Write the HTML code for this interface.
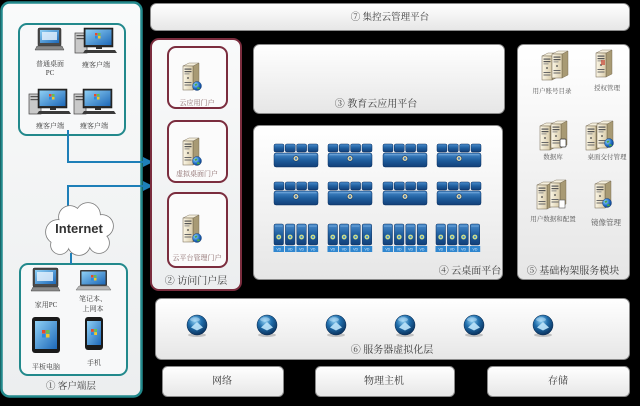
<!DOCTYPE html>
<html><head><meta charset="utf-8"><style>
html,body{margin:0;padding:0;background:#000;}
svg{display:block;}
text{font-family:"Liberation Serif","Noto Serif CJK SC","Noto Sans CJK SC",serif;fill:#3a3a3a;}
</style></head><body>
<svg width="640" height="406" viewBox="0 0 640 406" xmlns="http://www.w3.org/2000/svg">
<defs>
<linearGradient id="boxg" x1="0" y1="0" x2="0" y2="1"><stop offset="0" stop-color="#ffffff"/><stop offset="1" stop-color="#e6e6e6"/></linearGradient>
<linearGradient id="panelg" x1="0" y1="0" x2="0" y2="1"><stop offset="0" stop-color="#f9fafa"/><stop offset="1" stop-color="#eceeef"/></linearGradient>
<linearGradient id="bladeg" x1="0" y1="0" x2="0" y2="1"><stop offset="0" stop-color="#4a8ccc"/><stop offset="0.5" stop-color="#1f5e9e"/><stop offset="1" stop-color="#123f78"/></linearGradient>
<linearGradient id="beige" x1="0" y1="0" x2="1" y2="0"><stop offset="0" stop-color="#fbf6e6"/><stop offset="1" stop-color="#d9ccaa"/></linearGradient>
<linearGradient id="scr" x1="0" y1="0" x2="1" y2="1"><stop offset="0" stop-color="#8fd0f5"/><stop offset="1" stop-color="#1d68b8"/></linearGradient>
<radialGradient id="sphg" cx="0.4" cy="0.3" r="0.75"><stop offset="0" stop-color="#8fd0f2"/><stop offset="0.45" stop-color="#1f6dab"/><stop offset="1" stop-color="#082c55"/></radialGradient>
<radialGradient id="globe" cx="0.35" cy="0.35" r="0.7"><stop offset="0" stop-color="#9fd8ff"/><stop offset="0.6" stop-color="#1f6ec8"/><stop offset="1" stop-color="#0c3c80"/></radialGradient>

<g id="srv">
<polygon points="10,4 16,1 16,25 10,28" fill="#a89a74" stroke="#6d6048" stroke-width="0.4"/>
<polygon points="0,4 6,1 16,1 10,4" fill="#f6f0de" stroke="#6d6048" stroke-width="0.4"/>
<rect x="0" y="4" width="10" height="24" fill="url(#beige)" stroke="#6d6048" stroke-width="0.5"/>
<rect x="1.5" y="6.5" width="7" height="1.2" fill="#555"/>
<rect x="1.5" y="9" width="7" height="1.2" fill="#555"/>
<rect x="1.5" y="11.5" width="5" height="0.8" fill="#777"/>
<circle cx="5" cy="16" r="0.9" fill="#444"/>
<rect x="1.5" y="20" width="7" height="1" fill="#666"/>
<rect x="1.5" y="22.5" width="7" height="1" fill="#666"/>
</g>
<g id="glb">
<circle cx="0" cy="0" r="4.5" fill="url(#globe)" stroke="#0b3570" stroke-width="0.4"/>
<path d="M-2.5,-1.5 q1.5,-1.5 3,-0.5 q-0.5,1.5 -2,2 z M0.5,1 q2,0 2.5,1.5 q-1.5,1.5 -3,0.5 z" fill="#4aa84a"/>
</g>
<g id="blade">
<rect x="0" y="0" width="10" height="8" rx="1.5" fill="url(#bladeg)" stroke="#0c3060" stroke-width="0.5"/>
<rect x="11.3" y="0" width="10" height="8" rx="1.5" fill="url(#bladeg)" stroke="#0c3060" stroke-width="0.5"/>
<rect x="22.6" y="0" width="10" height="8" rx="1.5" fill="url(#bladeg)" stroke="#0c3060" stroke-width="0.5"/>
<rect x="34" y="0" width="10" height="8" rx="1.5" fill="url(#bladeg)" stroke="#0c3060" stroke-width="0.5"/>
<rect x="0" y="9" width="44" height="14" rx="2" fill="url(#bladeg)" stroke="#0c3060" stroke-width="0.5"/>
<rect x="1.5" y="10" width="41" height="1.3" fill="#7fb0e0" opacity="0.6"/>
<circle cx="22" cy="14.5" r="2.8" fill="#e0d8a8" stroke="#173a6a" stroke-width="0.6"/>
<circle cx="22" cy="14.5" r="1.2" fill="#3a7ac0"/>
</g>
<g id="vm">
<g id="vm1">
<rect x="0" y="0" width="9.5" height="21" rx="1.5" fill="url(#bladeg)" stroke="#0c3060" stroke-width="0.5"/>
<rect x="1" y="1.5" width="7.5" height="1.2" fill="#7fb0e0" opacity="0.6"/>
<circle cx="4.75" cy="13" r="2.6" fill="#cfe08a" stroke="#2a5a8a" stroke-width="0.4"/>
<circle cx="4.75" cy="13" r="1.1" fill="#3f8fd0"/>
<rect x="-0.5" y="22" width="10.5" height="6" fill="#2f86cf"/>
<text x="4.75" y="26.5" text-anchor="middle" style="font-size:3.5px;fill:#dff0ff;font-family:'Liberation Sans',sans-serif">VD</text>
</g>
<use href="#vm1" x="11.4"/>
<use href="#vm1" x="22.8"/>
<use href="#vm1" x="34.2"/>
</g>
<g id="sph">
<ellipse cx="0" cy="10" rx="9" ry="2" fill="#8a8a8a" opacity="0.45"/>
<circle cx="0" cy="0" r="10" fill="url(#sphg)" stroke="#0a2a50" stroke-width="0.5"/>
<polygon points="0,-3 6,2.5 0,5.5 -6,2.5" fill="#bfe6fb" opacity="0.9"/>
<ellipse cx="-2" cy="-5.5" rx="5" ry="2.2" fill="#cfeaff" opacity="0.45"/>
</g>
<g id="thin">
<!-- tower -->
<rect x="0" y="5" width="12" height="20" fill="#c9c9c9" stroke="#444" stroke-width="0.7"/>
<rect x="1.5" y="7" width="9" height="1.2" fill="#555"/>
<rect x="1.5" y="10" width="9" height="1.2" fill="#555"/>
<!-- monitor -->
<rect x="9" y="0" width="29" height="19" fill="#2a2a2a" stroke="#111" stroke-width="0.5"/>
<rect x="10.5" y="1.5" width="26" height="15.5" fill="url(#scr)"/>
<rect x="20" y="5" width="2.5" height="2.5" fill="#e84a2a"/><rect x="23" y="5" width="2.5" height="2.5" fill="#6ac04a"/>
<rect x="20" y="8" width="2.5" height="2.5" fill="#2a8ae0"/><rect x="23" y="8" width="2.5" height="2.5" fill="#f2c82a"/>
<rect x="21" y="19" width="6" height="2" fill="#333"/>
<!-- keyboard -->
<polygon points="10,22 40,22 42,25 8,25" fill="#3a3a3a"/>
</g>
</defs>

<!-- ===== Left client panel ===== -->
<rect x="1.5" y="2.5" width="140" height="394" rx="8" fill="url(#panelg)" stroke="#22898c" stroke-width="2.5"/>
<rect x="19" y="24" width="106" height="111" rx="8" fill="#f7f8f9" stroke="#22898c" stroke-width="2"/>
<rect x="20" y="264" width="107" height="111" rx="8" fill="#f7f8f9" stroke="#22898c" stroke-width="2"/>

<!-- top box icons -->
<g>
<rect x="38" y="28" width="23" height="18" rx="1.5" fill="#4a4a4a" stroke="#222" stroke-width="0.5"/>
<rect x="40" y="30" width="19" height="13" fill="url(#scr)"/>
<rect x="42" y="32" width="15" height="8" fill="#e8f4ff" opacity="0.8"/>
<polygon points="37,46 62,46 64,50 35,50" fill="#8a8a8a" stroke="#444" stroke-width="0.5"/>
</g>
<use href="#thin" x="75" y="28"/>
<use href="#thin" x="29" y="89"/>
<use href="#thin" x="74" y="89"/>
<text x="50" y="66" text-anchor="middle" style="font-size:7px">普通桌面</text>
<text x="50" y="75" text-anchor="middle" style="font-size:7px">PC</text>
<text x="96" y="67" text-anchor="middle" style="font-size:7px">瘦客户端</text>
<text x="50" y="128" text-anchor="middle" style="font-size:7px">瘦客户端</text>
<text x="94" y="128" text-anchor="middle" style="font-size:7px">瘦客户端</text>

<!-- bottom box icons -->
<g>
<rect x="33" y="268" width="25" height="19" rx="1.5" fill="#4a4a4a" stroke="#222" stroke-width="0.5"/>
<rect x="35" y="270" width="21" height="14" fill="url(#scr)"/>
<rect x="37" y="272" width="16" height="9" fill="#e8f4ff" opacity="0.8"/>
<polygon points="33,287 58,287 60,291 31,291" fill="#8a8a8a" stroke="#444" stroke-width="0.5"/>
</g>
<g>
<rect x="80" y="270" width="27" height="16" rx="1" fill="#3a3a3a"/>
<rect x="81.5" y="271.5" width="24" height="13" fill="url(#scr)"/>
<rect x="91" y="275" width="2.5" height="2.5" fill="#e84a2a"/><rect x="94" y="275" width="2.5" height="2.5" fill="#6ac04a"/>
<rect x="91" y="278" width="2.5" height="2.5" fill="#2a8ae0"/><rect x="94" y="278" width="2.5" height="2.5" fill="#f2c82a"/>
<polygon points="79,286 108,286 111,290 76,290" fill="#b8b8b8" stroke="#666" stroke-width="0.5"/>
</g>
<g>
<rect x="32" y="317" width="28" height="36" rx="3" fill="#1a1a1a"/>
<rect x="35" y="321" width="22" height="28" fill="url(#scr)"/>
<rect x="42" y="330" width="3.5" height="3.5" fill="#e84a2a"/><rect x="46" y="330" width="3.5" height="3.5" fill="#6ac04a"/>
<rect x="42" y="334" width="3.5" height="3.5" fill="#2a8ae0"/><rect x="46" y="334" width="3.5" height="3.5" fill="#f2c82a"/>
</g>
<g>
<rect x="85" y="317" width="18" height="33" rx="3" fill="#1a1a1a"/>
<rect x="87" y="321" width="14" height="24" fill="url(#scr)"/>
<rect x="91" y="329" width="2.8" height="2.8" fill="#e84a2a"/><rect x="94.2" y="329" width="2.8" height="2.8" fill="#6ac04a"/>
<rect x="91" y="332.2" width="2.8" height="2.8" fill="#2a8ae0"/><rect x="94.2" y="332.2" width="2.8" height="2.8" fill="#f2c82a"/>
</g>
<text x="46" y="307" text-anchor="middle" style="font-size:7px">家用PC</text>
<text x="93" y="301" text-anchor="middle" style="font-size:7px">笔记本、</text>
<text x="93" y="311" text-anchor="middle" style="font-size:7px">上网本</text>
<text x="46" y="369" text-anchor="middle" style="font-size:7px">平板电脑</text>
<text x="94" y="365" text-anchor="middle" style="font-size:7px">手机</text>
<text x="71" y="389" text-anchor="middle" style="font-size:9.5px">① 客户端层</text>

<!-- connectors -->
<g stroke="#1e7fb8" stroke-width="2" fill="none">
<path d="M68,130 V162 H145"/>
<path d="M68,208 V186 H145"/>
<path d="M71,253 V264"/>
</g>
<polygon points="143,157 153,162 143,167" fill="#1e7fb8"/>
<polygon points="143,181 153,186 143,191" fill="#1e7fb8"/>

<!-- Internet cloud -->
<g fill="#ffffff" stroke="#7a7a7a" stroke-width="1.6">
<circle cx="58" cy="232" r="12"/><circle cx="70" cy="217" r="11"/><circle cx="88" cy="215" r="12"/>
<circle cx="102" cy="226" r="11"/><circle cx="99" cy="243" r="10"/><circle cx="79" cy="244" r="11"/><circle cx="60" cy="245" r="9"/>
</g>
<g fill="#ffffff">
<circle cx="58" cy="232" r="12"/><circle cx="70" cy="217" r="11"/><circle cx="88" cy="215" r="12"/>
<circle cx="102" cy="226" r="11"/><circle cx="99" cy="243" r="10"/><circle cx="79" cy="244" r="11"/><circle cx="60" cy="245" r="9"/>
<ellipse cx="79" cy="230" rx="24" ry="14"/>
</g>
<text x="79" y="233" text-anchor="middle" style="font-family:'Liberation Sans',sans-serif;font-weight:bold;font-size:13px;fill:#333">Internet</text>

<!-- ===== Portal panel ===== -->
<rect x="151" y="39" width="90" height="251" rx="8" fill="url(#panelg)" stroke="#7b2d3e" stroke-width="2"/>
<rect x="168" y="47" width="59" height="61" rx="8" fill="#fbfbfb" stroke="#7b2d3e" stroke-width="2"/>
<rect x="168" y="121" width="59" height="61" rx="8" fill="#fbfbfb" stroke="#7b2d3e" stroke-width="2"/>
<rect x="168" y="193" width="59" height="74" rx="8" fill="#fbfbfb" stroke="#7b2d3e" stroke-width="2"/>
<use href="#srv" x="183" y="62"/><use href="#glb" x="197" y="86"/>
<use href="#srv" x="183" y="137"/><use href="#glb" x="197" y="161"/>
<use href="#srv" x="183" y="214"/><use href="#glb" x="197" y="238"/>
<text x="197" y="105" text-anchor="middle" style="font-size:7px;fill:#8a6a6a">云应用门户</text>
<text x="197" y="176" text-anchor="middle" style="font-size:7px;fill:#8a6a6a">虚拟桌面门户</text>
<text x="197" y="260" text-anchor="middle" style="font-size:7px;fill:#8a6a6a">云平台管理门户</text>
<text x="196" y="284" text-anchor="middle" style="font-size:10px">② 访问门户层</text>

<!-- ===== top bar ⑦ ===== -->
<rect x="150.5" y="3.5" width="479" height="27" rx="6" fill="url(#boxg)" stroke="#8a8a8a" stroke-width="1"/>
<text x="390" y="20" text-anchor="middle" style="font-size:9.5px">⑦ 集控云管理平台</text>

<!-- ③ -->
<rect x="253.5" y="44.5" width="251" height="69" rx="6" fill="url(#boxg)" stroke="#8a8a8a" stroke-width="1"/>
<text x="376" y="107" text-anchor="middle" style="font-size:10px">③ 教育云应用平台</text>

<!-- ④ -->
<rect x="253.5" y="125.5" width="249" height="154" rx="6" fill="url(#boxg)" stroke="#8a8a8a" stroke-width="1"/>
<use href="#blade" x="274" y="144"/><use href="#blade" x="328" y="144"/><use href="#blade" x="383" y="144"/><use href="#blade" x="437" y="144"/>
<use href="#blade" x="274" y="182"/><use href="#blade" x="328" y="182"/><use href="#blade" x="383" y="182"/><use href="#blade" x="437" y="182"/>
<use href="#vm" x="274" y="224"/><use href="#vm" x="328" y="224"/><use href="#vm" x="383" y="224"/><use href="#vm" x="436" y="224"/>
<text x="470" y="274" text-anchor="middle" style="font-size:10px">④ 云桌面平台</text>

<!-- ⑤ -->
<rect x="517.5" y="44.5" width="112" height="235" rx="6" fill="url(#boxg)" stroke="#8a8a8a" stroke-width="1"/>
<use href="#srv" x="542" y="52"/><use href="#srv" x="552" y="50"/>
<use href="#srv" x="596" y="49"/><rect x="601" y="60" width="4" height="5" fill="#c84a3a" opacity="0.7"/>
<use href="#srv" x="540" y="122"/><use href="#srv" x="551" y="120"/><rect x="560" y="139" width="6" height="8" rx="1" fill="#fff" stroke="#333" stroke-width="0.7"/>
<use href="#srv" x="586" y="122"/><use href="#srv" x="597" y="120"/><use href="#glb" x="609" y="143"/>
<use href="#srv" x="537" y="181" transform="translate(0,0)"/><use href="#srv" x="550" y="179"/><rect x="559" y="200" width="6" height="8" fill="#fff" stroke="#555" stroke-width="0.6"/>
<use href="#srv" x="595" y="180"/><use href="#glb" x="607" y="203"/>
<text x="552" y="93" text-anchor="middle" style="font-size:6.5px;fill:#555">用户账号目录</text>
<text x="607" y="90" text-anchor="middle" style="font-size:6.5px;fill:#555">授权管理</text>
<text x="553" y="159" text-anchor="middle" style="font-size:6.5px;fill:#555">数据库</text>
<text x="607" y="159" text-anchor="middle" style="font-size:6.5px;fill:#555">桌面交付管理</text>
<text x="553" y="221" text-anchor="middle" style="font-size:6.5px;fill:#555">用户数据和配置</text>
<text x="606" y="225" text-anchor="middle" style="font-size:7.5px;fill:#555">镜像管理</text>
<text x="573" y="274" text-anchor="middle" style="font-size:10px">⑤ 基础构架服务模块</text>

<!-- ⑥ -->
<rect x="155.5" y="298.5" width="474" height="61" rx="6" fill="url(#boxg)" stroke="#8a8a8a" stroke-width="1"/>
<use href="#sph" x="197" y="325"/><use href="#sph" x="267" y="325"/><use href="#sph" x="336" y="325"/>
<use href="#sph" x="405" y="325"/><use href="#sph" x="474" y="325"/><use href="#sph" x="543" y="325"/>
<text x="392" y="353" text-anchor="middle" style="font-size:10px">⑥ 服务器虚拟化层</text>

<!-- bottom -->
<rect x="162.5" y="366.5" width="121" height="30" rx="5" fill="url(#boxg)" stroke="#8a8a8a" stroke-width="1"/>
<rect x="315.5" y="366.5" width="139" height="30" rx="5" fill="url(#boxg)" stroke="#8a8a8a" stroke-width="1"/>
<rect x="487.5" y="366.5" width="142" height="30" rx="5" fill="url(#boxg)" stroke="#8a8a8a" stroke-width="1"/>
<text x="222" y="384" text-anchor="middle" style="font-size:10px">网络</text>
<text x="384" y="384" text-anchor="middle" style="font-size:10px">物理主机</text>
<text x="558" y="384" text-anchor="middle" style="font-size:10px">存储</text>
</svg>
</body></html>
